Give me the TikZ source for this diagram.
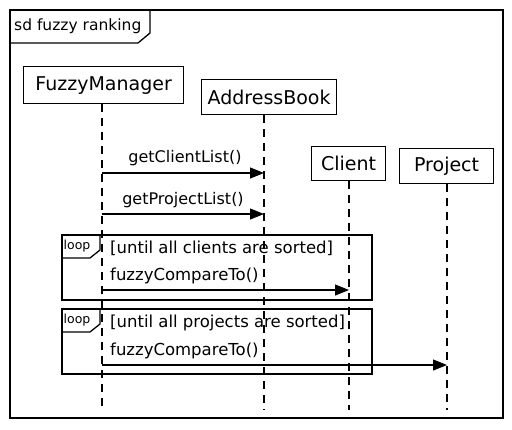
\documentclass[tikz,border=0pt]{standalone}
\usepackage{fontspec}
\setmainfont{DejaVu Sans}
\usetikzlibrary{arrows.meta}
\begin{document}
\begin{tikzpicture}[x=1pt,y=-1pt,
  actor/.style={draw,line width=1.2pt,inner sep=0pt,font=\fontsize{19}{21}\selectfont,anchor=north west},
  life/.style={line width=1.2pt,dash pattern=on 8pt off 6pt},
  msg/.style={line width=1.1pt,-{Triangle[length=14pt,width=11pt]}},
  mlabel/.style={font=\fontsize{16}{18}\selectfont,inner sep=0pt},
  guard/.style={font=\fontsize{16.5}{18}\selectfont,inner sep=0pt,anchor=west},
  frame/.style={line width=1.3pt},
  tab/.style={font=\fontsize{12.5}{14}\selectfont,inner sep=0pt}]
\useasboundingbox (0,0) rectangle (512,429);
% outer frame
\draw[frame] (10,10) rectangle (503,418);
\draw[frame] (10,43) -- (138,43) -- (150,33) -- (150,10);
\node[font=\fontsize{15.5}{17}\selectfont,inner sep=0pt,anchor=west] (title) at (14,26) {sd fuzzy ranking};
% actors
\node[actor,minimum width=160pt,minimum height=37pt] (fm) at (23,66) {FuzzyManager};
\node[actor,minimum width=135pt,minimum height=35pt] (ab) at (201,79) {AddressBook};
\node[actor,minimum width=74pt,minimum height=34pt] (cl) at (311,146) {Client};
\node[actor,minimum width=94pt,minimum height=35pt] (pr) at (399,148) {Project};
% lifeline ends
\coordinate (fmE) at (102,410);
\coordinate (abE) at (264,410);
\coordinate (clE) at (349,410);
\coordinate (prE) at (447,410);
\draw[life] (fmE |- fm.south) -- (fmE);
\draw[life] (abE |- ab.south) -- (abE);
\draw[life] (clE |- cl.south) -- (clE);
\draw[life] (prE |- pr.south) -- (prE);
% messages
\draw[msg] (fmE |- 0,173) -- (abE |- 0,173);
\node[mlabel] (m1) at (185,158) {getClientList()};
\draw[msg] (fmE |- 0,214) -- (abE |- 0,214);
\node[mlabel] (m2) at (183,200) {getProjectList()};
% loop 1
\draw[frame] (62,235) rectangle (372,300);
\draw[frame] (62,258) -- (90,258) -- (100,250) -- (100,235);
\node[tab] (l1) at (77,246) {loop};
\node[guard] (g1) at (110,248) {[until all clients are sorted]};
\node[guard] (m3) at (110,276) {fuzzyCompareTo()};
\draw[msg] (fmE |- 0,290) -- (clE |- 0,290);
% loop 2
\draw[frame] (62,309) rectangle (372,374);
\draw[frame] (62,332) -- (90,332) -- (100,324) -- (100,309);
\node[tab] (l2) at (77,320) {loop};
\node[guard] (g2) at (110,323) {[until all projects are sorted]};
\node[guard] (m4) at (110,351) {fuzzyCompareTo()};
\draw[msg] (fmE |- 0,365) -- (prE |- 0,365);
\end{tikzpicture}
\end{document}
